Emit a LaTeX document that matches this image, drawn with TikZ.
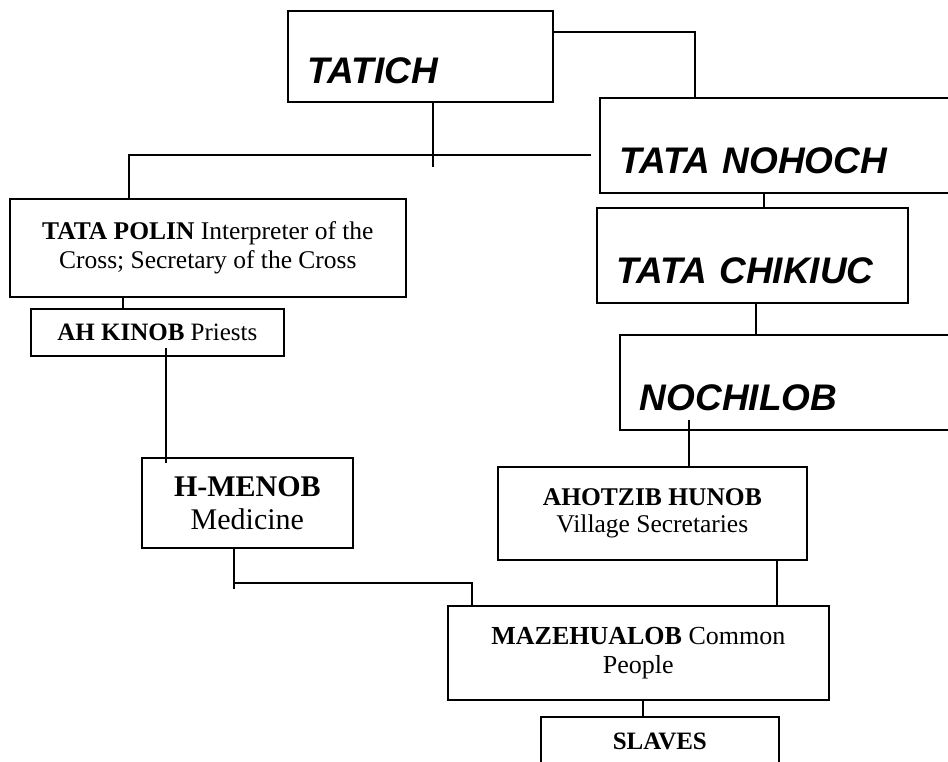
\documentclass[tikz,border=0pt]{standalone}
\usepackage{fontspec}
\setmainfont{Liberation Serif}
\newfontfamily\headfont{Liberation Sans}

\begin{document}
\begin{tikzpicture}[x=1pt,y=-1pt,line width=1.7pt,
    rank/.style={draw,anchor=north west,inner ysep=0pt,inner xsep=20pt,
        text height=76pt,text depth=19pt,align=left,
        font=\headfont\bfseries\itshape\fontsize{37}{40}\selectfont},
    post/.style={draw,anchor=north west,align=center,inner sep=0pt}]
    \useasboundingbox (0,0) rectangle (948,761);
    \clip (0,0) rectangle (948,761);
    \node[rank,text width=225pt,text height=73pt,text depth=18pt] (tatich) at (287,10) {TATICH};
    \node[rank,text width=331pt] (nohoch) at (599,97) {TATA NOHOCH};
    \node[rank,text width=271pt] (chikiuc) at (596,207) {TATA CHIKIUC};
    \node[rank,text width=310pt] (nochilob) at (619,334) {NOCHILOB};
    \node[post,minimum width=396pt,minimum height=98pt,font=\fontsize{25.5}{29}\selectfont] (polin) at (9,198)
    {\textbf{TATA POLIN} Interpreter of the\\Cross; Secretary of the Cross};
    \node[post,minimum width=253pt,minimum height=47pt,font=\fontsize{25}{29}\selectfont] (kinob) at (30,308)
    {\textbf{AH KINOB} Priests};
    \node[post,minimum width=211pt,minimum height=90pt,font=\fontsize{30}{33}\selectfont] (menob) at (141,457)
    {\textbf{H-MENOB}\\Medicine};
    \node[post,minimum width=309pt,minimum height=93pt,font=\fontsize{25.5}{27}\selectfont] (hunob) at (497,466)
    {\textbf{AHOTZIB HUNOB}\\Village Secretaries};
    \node[post,minimum width=381pt,minimum height=94pt,font=\fontsize{26}{29}\selectfont] (mazeh) at (447,605)
    {\textbf{MAZEHUALOB} Common\\People};
    \node[post,minimum width=238pt,minimum height=50pt,font=\fontsize{25}{29}\selectfont] (slaves) at (540,716)
    {\textbf{SLAVES}};
    \coordinate (top) at (695,32);
    \coordinate (bar) at (129,155);
    \coordinate (k1) at ([xshift=12.5pt]tatich.south);
    \coordinate (k2) at ([xshift=11.5pt]chikiuc.north);
    \coordinate (k3) at ([xshift=3.5pt]chikiuc.south);
    \coordinate (k4) at ([xshift=36.5pt]hunob.north);
    \coordinate (k5) at ([xshift=-34.5pt]kinob.north);
    \coordinate (k6) at ([xshift=-81.5pt,yshift=-6pt]menob.north);
    \coordinate (k7) at ([xshift=-13.5pt]menob.south);
    \coordinate (k8) at ([xshift=-166.5pt]mazeh.north);
    \coordinate (k9) at ([xshift=124.5pt]hunob.south);
    \coordinate (k10) at ([xshift=4.5pt]mazeh.south);
    \draw (tatich.east |- top) -- (top) -- (top |- nohoch.north);
    \draw (k1) -- ++(0,64);
    \draw (bar |- polin.north) -- (bar) -- ++(462,0);
    \draw (k2) -- (k2 |- nohoch.south);
    \draw (k3) -- (k3 |- nochilob.north);
    \draw (k4) -- ++(0,-46);
    \draw (k5) -- (k5 |- polin.south);
    \draw (k6) -- ++(0,-115);
    \draw (k8) -- ++(0,-22) -| (k7);
    \draw (k7) -- ++(0,40);
    \draw (k9) -- (k9 |- mazeh.north);
    \draw (k10) -- (k10 |- slaves.north);
\end{tikzpicture}
\end{document}
